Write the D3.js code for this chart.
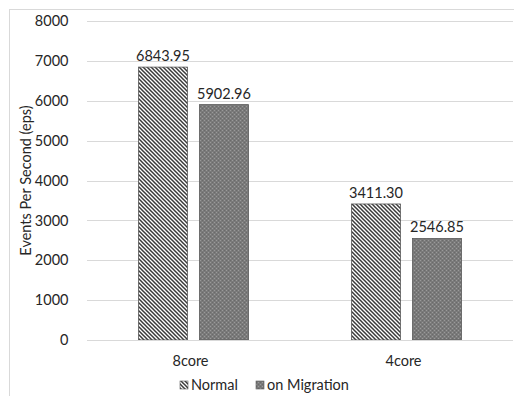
<!DOCTYPE html>
<html><head><meta charset="utf-8">
<script src="https://cdn.jsdelivr.net/npm/d3@7"></script>
<style>body{margin:0;background:#fff}svg{display:block;font-family:Lato,"Open Sans",sans-serif}</style>
</head><body>
<svg id="c" width="514" height="396"></svg>
<script>
const categories = ["8core", "4core"];
const seriesNames = ["Normal", "on Migration"];
const normalValues = [6843.95, 3411.30];
const migrationValues = [5902.96, 2546.85];
const yTicks = [0, 1000, 2000, 3000, 4000, 5000, 6000, 7000, 8000];
const yTitle = "Events Per Second (eps)";

(function(){
const FS = 14.5;
const svg = d3.select("#c");
const defs = svg.append("defs");
const p1 = defs.append("pattern").attr("id","pN").attr("patternUnits","userSpaceOnUse").attr("width",4).attr("height",4);
p1.append("rect").attr("width",4).attr("height",4).attr("fill","#ffffff");
p1.append("path").attr("d","M-1,-1 L5,5 M-1,3 L1,5 M3,-1 L5,1").attr("stroke","#3a3a3a").attr("stroke-width",1.5);
const p2 = defs.append("pattern").attr("id","pM").attr("patternUnits","userSpaceOnUse").attr("width",4).attr("height",4);
p2.append("rect").attr("width",4).attr("height",4).attr("fill","#7a7a7a");
p2.append("rect").attr("x",0).attr("y",0).attr("width",1).attr("height",1).attr("fill","#9a9a9a");
p2.append("rect").attr("x",2).attr("y",2).attr("width",1).attr("height",1).attr("fill","#9a9a9a");
p2.append("rect").attr("x",2).attr("y",0).attr("width",1).attr("height",1).attr("fill","#6a6a6a");
p2.append("rect").attr("x",0).attr("y",2).attr("width",1).attr("height",1).attr("fill","#6a6a6a");

svg.append("rect").attr("x",9.5).attr("y",9.5).attr("width",510).attr("height",395)
  .attr("fill","none").attr("stroke","#d9d9d9");

const pl = 87, pr = 513, pt = 21, pb = 340;
const y = d3.scaleLinear().domain([0, 8000]).range([pb, pt]);
const x0 = d3.scaleBand().domain(categories).range([pl, pr]).padding(0);
const groupW = 110;
const x1 = d3.scaleBand().domain(seriesNames).range([0, groupW]).paddingInner(0.197).paddingOuter(0);

svg.append("g").selectAll("line").data(yTicks.filter(d=>d>0)).join("line")
  .attr("x1",pl).attr("x2",pr)
  .attr("y1",d=>Math.round(y(d))+0.5).attr("y2",d=>Math.round(y(d))+0.5)
  .attr("stroke","#d9d9d9");

const yAxis = d3.axisLeft(y).tickValues(yTicks).tickSize(0).tickPadding(0).tickFormat(d3.format("d"));
const gy = svg.append("g").attr("transform",`translate(68.5,0)`).call(yAxis);
gy.select(".domain").remove();
gy.selectAll("text").attr("font-size",FS).attr("fill","#262626").attr("font-family","Lato,'Open Sans',sans-serif");

const series = [
  {name: seriesNames[0], values: normalValues, fill: "url(#pN)"},
  {name: seriesNames[1], values: migrationValues, fill: "url(#pM)"}
];
const gBars = svg.append("g");
series.forEach(s => {
  categories.forEach((c, i) => {
    const bx = x0(c) + (x0.bandwidth() - groupW)/2 + x1(s.name);
    const v = s.values[i];
    gBars.append("rect")
      .attr("x", bx).attr("y", y(v))
      .attr("width", x1.bandwidth()).attr("height", y(0) - y(v))
      .attr("fill", s.fill).attr("stroke","#595959").attr("stroke-width",0.8);
    gBars.append("text")
      .attr("x", bx + x1.bandwidth()/2).attr("y", y(v) - 6)
      .attr("text-anchor","middle").attr("font-size",FS).attr("fill","#262626")
      .text(v.toFixed(2));
  });
});

svg.append("line").attr("x1",pl).attr("x2",pr).attr("y1",pb+0.5).attr("y2",pb+0.5).attr("stroke","#d9d9d9");
const xAxis = d3.axisBottom(x0).tickSize(0).tickPadding(0);
const gx = svg.append("g").attr("transform",`translate(-3,366)`).call(xAxis);
gx.select(".domain").remove();
gx.selectAll("text").attr("dy",null).attr("y",0).attr("font-size",FS).attr("fill","#262626").attr("font-family","Lato,'Open Sans',sans-serif");

svg.append("text").attr("transform",`translate(31,${(pt+pb)/2}) rotate(-90)`)
  .attr("text-anchor","middle").attr("font-size",FS).attr("fill","#262626").text(yTitle);

const legend = [{name: seriesNames[0], fill:"url(#pN)", x:180},{name: seriesNames[1], fill:"url(#pM)", x:256}];
legend.forEach(l => {
  svg.append("rect").attr("x",l.x).attr("y",381).attr("width",8).attr("height",8)
    .attr("fill",l.fill).attr("stroke","#595959").attr("stroke-width",0.6);
  svg.append("text").attr("x",l.x+11).attr("y",389.5).attr("font-size",FS).attr("fill","#262626").text(l.name);
});
})();
</script>
</body></html>
